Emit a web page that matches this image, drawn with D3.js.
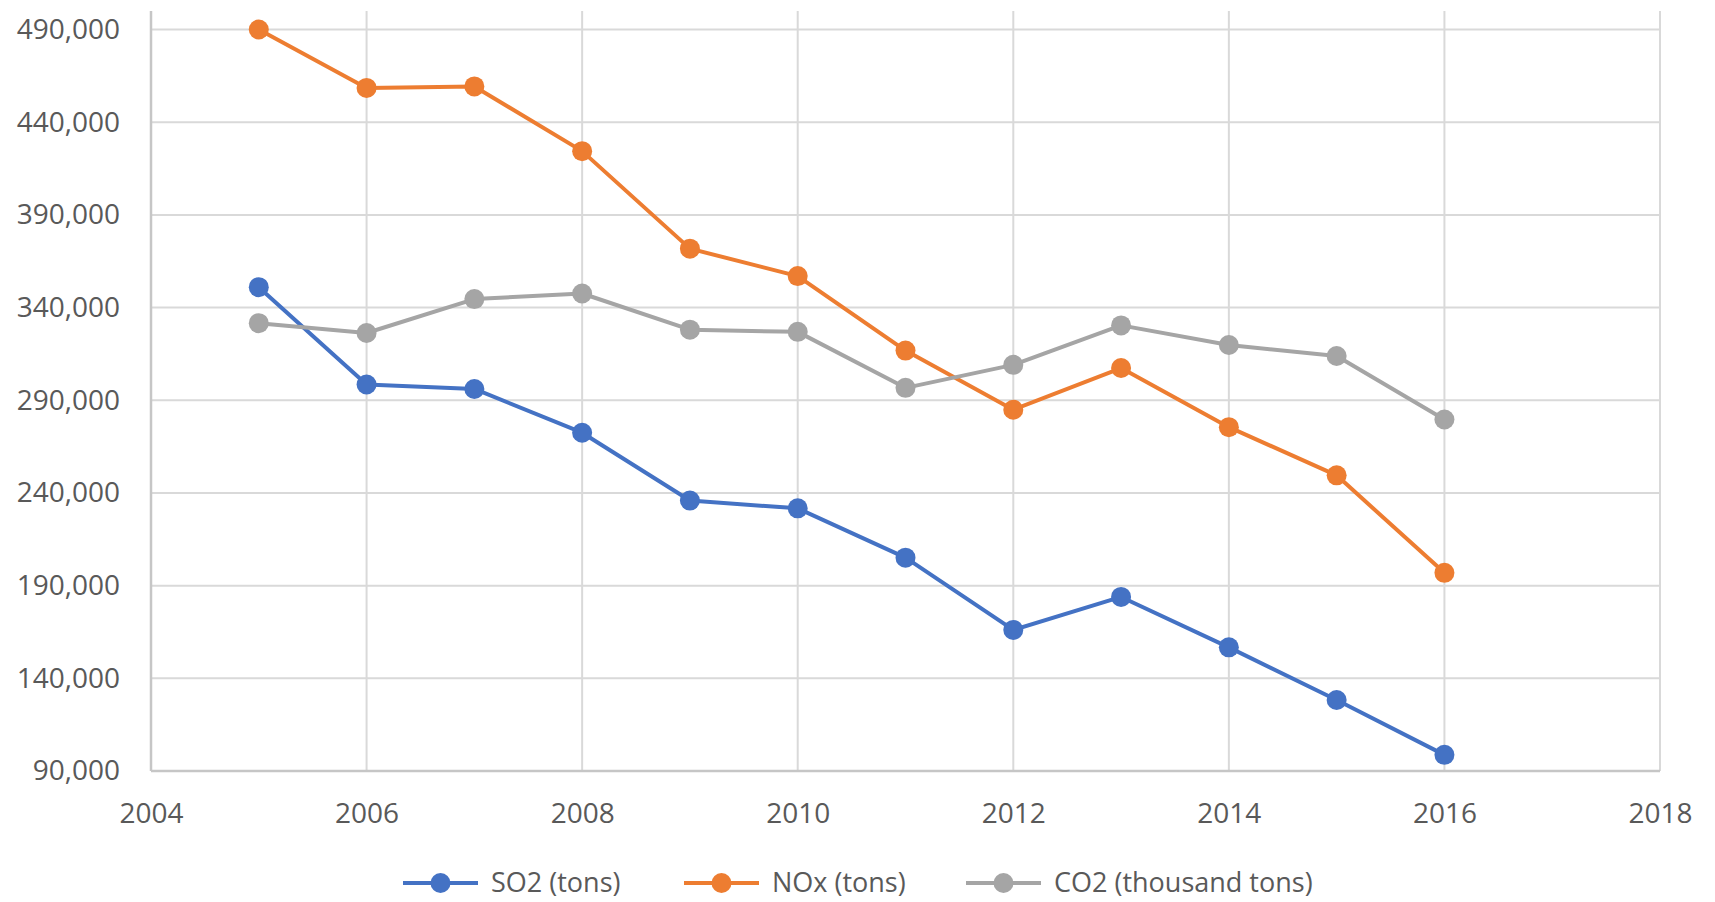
<!DOCTYPE html>
<html>
<head>
<meta charset="utf-8">
<script src="https://cdn.jsdelivr.net/npm/d3@7"></script>
<style>
    html, body { margin: 0; padding: 0; background: #fff; }
    svg { display: block; font-family: 'Open Sans', sans-serif; }
</style>
</head>
<body>
<svg></svg>
<script>
const years = [2005, 2006, 2007, 2008, 2009, 2010, 2011, 2012, 2013, 2014, 2015, 2016]
const so2 = [351000, 298500, 296100, 272500, 235900, 231700, 205100, 166100, 183900, 156700, 128300, 98700]
const nox = [490000, 458500, 459300, 424400, 371800, 357000, 316800, 284900, 307400, 275500, 249500, 196900]
const co2 = [331600, 326300, 344600, 347600, 328100, 326900, 296700, 309100, 330400, 319800, 313900, 279600]
const seriesNames = ['SO2 (tons)', 'NOx (tons)', 'CO2 (thousand tons)']
const xTicks = [2004, 2006, 2008, 2010, 2012, 2014, 2016, 2018]
const yTicks = [90000, 140000, 190000, 240000, 290000, 340000, 390000, 440000, 490000]

const colors = ['#4472C4', '#ED7D31', '#A5A5A5']
const series = [so2, nox, co2].map((values, i) => ({
    name: seriesNames[i],
    color: colors[i],
    points: values.map((v, j) => ({ year: years[j], value: v }))
}))

const width = 1715
const height = 902
const svg = d3.select('svg').attr('width', width).attr('height', height)

const x = d3.scaleLinear().domain([2004, 2018]).range([151, 1660])
const y = d3.scaleLinear().domain([90000, 500000]).range([771, 11])
const textColor = '#595959'

// grid
const grid = svg.append('g').attr('class', 'grid')
grid.selectAll('line.h').data(yTicks).enter().append('line')
    .attr('class', 'h')
    .attr('x1', x(2004)).attr('x2', x(2018))
    .attr('y1', d => y(d)).attr('y2', d => y(d))
    .attr('stroke', '#d9d9d9').attr('stroke-width', 2)
grid.selectAll('line.v').data(xTicks).enter().append('line')
    .attr('class', 'v')
    .attr('x1', d => x(d)).attr('x2', d => x(d))
    .attr('y1', y(500000)).attr('y2', y(90000))
    .attr('stroke', '#d9d9d9').attr('stroke-width', 2)

// axis lines
grid.append('line')
    .attr('x1', x(2004)).attr('x2', x(2018)).attr('y1', y(90000)).attr('y2', y(90000))
    .attr('stroke', '#c6c6c6').attr('stroke-width', 2.5)
grid.append('line')
    .attr('x1', x(2004)).attr('x2', x(2004)).attr('y1', y(500000)).attr('y2', y(90000))
    .attr('stroke', '#c6c6c6').attr('stroke-width', 2.5)

// tick labels
const yAxis = svg.append('g')
    .attr('transform', `translate(${x(2004) - 31},0)`)
    .call(d3.axisLeft(y).tickValues(yTicks).tickFormat(d3.format(',')).tickSize(0).tickPadding(0))
const xAxis = svg.append('g')
    .attr('transform', `translate(0,${y(90000) + 32})`)
    .call(d3.axisBottom(x).tickValues(xTicks).tickFormat(d3.format('d')).tickSize(0).tickPadding(0))
;[yAxis, xAxis].forEach(axis => {
    axis.select('.domain').remove()
    axis.selectAll('text')
        .attr('fill', textColor)
        .style('font-size', '28px')
        .style('font-family', "'Open Sans', sans-serif")
})

// lines and markers
const line = d3.line().x(d => x(d.year)).y(d => y(d.value))
const lineGroup = svg.append('g').attr('class', 'series')
series.forEach(s => {
    const g = lineGroup.append('g')
    g.append('path')
        .datum(s.points)
        .attr('d', line)
        .attr('fill', 'none')
        .attr('stroke', s.color)
        .attr('stroke-width', 4)
        .attr('stroke-linejoin', 'round')
    g.selectAll('circle').data(s.points).enter().append('circle')
        .attr('cx', d => x(d.year))
        .attr('cy', d => y(d.value))
        .attr('r', 10)
        .attr('fill', s.color)
})

// legend
const legendX = [403, 684, 966]
const legendY = 883
const legend = svg.append('g').attr('class', 'legend')
series.forEach((s, i) => {
    const item = legend.append('g').attr('transform', `translate(${legendX[i]},${legendY})`)
    item.append('line')
        .attr('x1', 0).attr('x2', 75).attr('y1', 0).attr('y2', 0)
        .attr('stroke', s.color).attr('stroke-width', 4)
    item.append('circle').attr('cx', 37.5).attr('cy', 0).attr('r', 10).attr('fill', s.color)
    item.append('text')
        .attr('x', 88).attr('y', 0).attr('dy', '0.35em')
        .attr('fill', textColor)
        .style('font-size', '27px')
        .text(s.name)
})
</script>
</body>
</html>
